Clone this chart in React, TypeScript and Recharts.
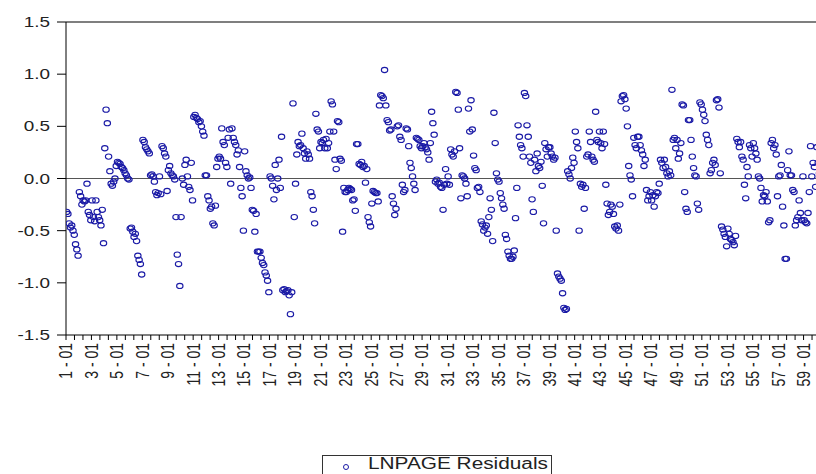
import {
  ReferenceLine,
  Scatter,
  ScatterChart,
  XAxis,
  YAxis,
} from "recharts";

// residuals per cross-section (10 periods each)
const sections01to10 = [
  [-0.32, -0.34, -0.43, -0.47, -0.45, -0.5, -0.54, -0.63, -0.68, -0.74],
  [-0.13, -0.17, -0.25, -0.21, -0.22, -0.21, -0.05, -0.32, -0.35, -0.4],
  [-0.21, -0.37, -0.41, -0.21, -0.32, -0.37, -0.4, -0.45, -0.3, -0.62],
  [0.29, 0.66, 0.53, 0.21, 0.07, -0.05, -0.07, -0.03, 0.0, 0.12],
  [0.16, 0.15, 0.14, 0.11, 0.1, 0.08, 0.05, 0.03, 0.0, -0.01],
  [-0.48, -0.47, -0.51, -0.56, -0.53, -0.6, -0.74, -0.78, -0.82, -0.92],
  [0.37, 0.35, 0.3, 0.28, 0.26, 0.24, 0.03, 0.04, 0.02, -0.03],
  [-0.13, -0.16, -0.14, 0.02, -0.15, 0.31, 0.29, 0.24, 0.21, -0.12],
  [0.08, 0.12, 0.05, 0.03, 0.02, -0.01, -0.37, -0.73, -0.82, -1.03],
  [-0.37, 0.0, -0.06, 0.13, 0.18, 0.02, -0.08, -0.11, 0.15, -0.21],
];

const sections11to20 = [
  [0.59, 0.61, 0.58, 0.57, 0.54, 0.55, 0.5, 0.45, 0.41, 0.03],
  [0.03, -0.17, -0.21, -0.29, -0.27, -0.43, -0.45, -0.26, 0.11, 0.19],
  [0.21, 0.19, 0.48, 0.35, 0.32, 0.15, 0.11, 0.39, 0.47, -0.05],
  [0.48, 0.39, 0.35, 0.32, 0.23, 0.27, 0.11, -0.09, -0.17, -0.5],
  [0.26, 0.07, 0.03, 0.0, 0.01, -0.09, -0.3, -0.31, -0.51, -0.34],
  [-0.7, -0.7, -0.7, -0.76, -0.81, -0.83, -0.9, -0.93, -0.98, -1.09],
  [0.02, 0.0, -0.07, -0.2, 0.13, -0.11, 0.0, 0.18, -0.09, 0.4],
  [-1.07, -1.06, -1.09, -1.08, -1.07, -1.12, -1.3, -1.09, 0.72, -0.37],
  [-0.05, 0.23, 0.35, 0.31, 0.32, 0.43, 0.29, 0.24, 0.19, 0.26],
  [0.23, 0.19, -0.13, -0.17, -0.3, -0.43, 0.62, 0.47, 0.45, 0.29],
];

const sections21to30 = [
  [0.35, 0.34, 0.37, 0.29, 0.38, 0.29, 0.34, 0.45, 0.74, 0.71],
  [0.45, 0.18, 0.09, 0.55, 0.54, 0.19, 0.17, -0.51, -0.09, -0.13],
  [-0.13, -0.11, -0.09, -0.1, -0.11, -0.21, -0.2, -0.31, 0.33, 0.33],
  [0.14, 0.13, 0.16, 0.11, 0.12, -0.04, 0.09, -0.37, -0.42, -0.46],
  [-0.24, -0.12, -0.13, -0.14, -0.14, -0.22, 0.7, 0.8, 0.79, 0.77],
  [1.04, 0.7, 0.56, 0.54, 0.46, 0.47, -0.17, -0.24, -0.35, -0.29],
  [0.5, 0.51, 0.4, 0.37, -0.06, -0.13, -0.11, 0.48, 0.47, 0.31],
  [0.15, 0.1, 0.02, -0.05, -0.11, 0.39, 0.38, 0.37, 0.31, 0.29],
  [0.31, 0.34, 0.3, 0.28, 0.25, 0.18, 0.34, 0.64, 0.53, 0.42],
  [-0.03, -0.01, -0.05, -0.04, -0.08, -0.09, -0.3, -0.06, 0.09, -0.05],
];

const sections31to40 = [
  [0.02, -0.06, 0.28, 0.23, 0.21, 0.26, 0.83, 0.82, 0.66, 0.29],
  [-0.19, 0.03, 0.02, 0.0, -0.05, -0.17, 0.67, 0.45, 0.75, 0.47],
  [0.22, 0.1, 0.08, -0.09, -0.08, -0.13, -0.41, -0.44, -0.5, -0.47],
  [-0.45, -0.53, -0.37, -0.19, -0.3, -0.6, 0.63, 0.34, 0.05, -0.01],
  [-0.03, -0.14, -0.19, -0.25, -0.29, -0.54, -0.58, -0.7, -0.74, -0.77],
  [-0.77, -0.75, -0.69, -0.38, -0.09, 0.51, 0.4, 0.32, 0.29, 0.21],
  [0.82, 0.79, 0.51, 0.4, 0.21, 0.15, -0.2, -0.32, 0.18, 0.07],
  [0.24, 0.12, 0.1, 0.16, -0.07, -0.43, 0.34, 0.28, 0.21, 0.3],
  [0.3, 0.24, 0.21, 0.18, 0.2, -0.5, -0.91, -0.94, -0.96, -0.98],
  [-1.1, -1.24, -1.26, -1.25, 0.07, 0.04, 0.0, 0.1, 0.2, 0.15],
];

const sections41to50 = [
  [0.45, 0.35, 0.29, -0.5, -0.05, -0.08, -0.06, -0.29, -0.09, 0.21],
  [0.23, 0.45, 0.35, 0.21, 0.18, 0.16, 0.64, 0.37, 0.35, 0.45],
  [0.34, 0.29, 0.45, 0.33, -0.06, -0.24, -0.35, -0.32, -0.25, -0.27],
  [-0.34, -0.46, -0.48, -0.45, -0.5, -0.25, 0.74, 0.79, 0.8, 0.76],
  [0.67, 0.5, 0.12, 0.03, -0.01, -0.17, 0.39, 0.32, 0.29, 0.4],
  [0.4, 0.32, 0.27, 0.23, 0.12, 0.18, -0.11, -0.21, -0.17, -0.13],
  [-0.21, -0.16, -0.27, -0.17, -0.13, -0.14, -0.05, 0.18, 0.15, 0.1],
  [0.18, 0.11, 0.05, 0.02, 0.07, 0.03, 0.85, 0.37, 0.39, 0.29],
  [0.37, 0.19, 0.24, 0.34, 0.71, 0.7, -0.13, -0.29, -0.32, 0.56],
  [0.56, 0.37, 0.21, 0.1, 0.03, 0.02, -0.24, -0.3, 0.73, 0.71],
];

const sections51to60 = [
  [0.66, 0.61, 0.55, 0.42, 0.37, 0.32, 0.05, 0.08, 0.15, 0.18],
  [0.13, 0.75, 0.76, 0.68, 0.05, -0.46, -0.49, -0.53, -0.56, -0.65],
  [-0.48, -0.53, -0.58, -0.59, -0.61, -0.64, -0.55, 0.38, 0.35, 0.3],
  [0.35, 0.21, 0.18, -0.06, -0.19, 0.11, 0.02, 0.32, 0.29, 0.21],
  [0.34, 0.29, 0.24, 0.18, 0.02, 0.0, -0.09, -0.22, -0.16, -0.17],
  [-0.13, -0.22, -0.42, -0.4, 0.34, 0.37, 0.29, 0.32, 0.23, -0.17],
  [0.02, 0.03, 0.13, -0.27, -0.45, -0.77, -0.77, 0.08, 0.26, 0.03],
  [0.03, -0.11, -0.13, -0.45, -0.4, -0.37, -0.21, -0.33, -0.4, 0.02],
  [-0.4, -0.42, -0.43, -0.33, -0.13, 0.31, 0.02, 0.15, 0.11, -0.08],
  [0.3, 0.15, 0.05, -0.1, -0.4, -0.38, 0.12, 0.2, 0.08, -0.05],
];

const obsLabels = [
  "1 - 01", "3 - 01", "5 - 01", "7 - 01", "9 - 01", "11 - 01",
  "13 - 01", "15 - 01", "17 - 01", "19 - 01", "21 - 01", "23 - 01",
  "25 - 01", "27 - 01", "29 - 01", "31 - 01", "33 - 01", "35 - 01",
  "37 - 01", "39 - 01", "41 - 01", "43 - 01", "45 - 01", "47 - 01",
  "49 - 01", "51 - 01", "53 - 01", "55 - 01", "57 - 01", "59 - 01",
];

const yTicks = [-1.5, -1.0, -0.5, 0.0, 0.5, 1.0, 1.5];

const PERIODS = 10;
const allSections = [
  ...sections01to10,
  ...sections11to20,
  ...sections21to30,
  ...sections31to40,
  ...sections41to50,
  ...sections51to60,
];
const points = allSections.flatMap((vals, s) =>
  vals.map((resid, t) => ({ obs: s * PERIODS + t + 0.5, resid }))
);
const nObs = allSections.length * PERIODS;
// three minor ticks per labelled interval (labels every 2 cross-sections)
const xTicks = Array.from({ length: 91 }, (_, i) => (i * 2 * PERIODS) / 3);

const BLUE = "#1a1aa6";
const FONT = "'Liberation Sans', Arial, sans-serif";

const XTick = (props: any) => {
  const { x, y, index } = props;
  if (index % 3 !== 0) return null;
  const label = obsLabels[index / 3];
  if (!label) return null;
  return (
    <text
      transform={`translate(${x},${y + 1}) rotate(-90) scale(1,1.3)`}
      textAnchor="end"
      dy="0.35em"
      fontSize={14}
      fontFamily={FONT}
      fill="#222"
    >
      {label}
    </text>
  );
};

const YTick = (props: any) => {
  const { x, y, payload } = props;
  return (
    <text
      transform={`translate(${x},${y}) scale(1.35,1)`}
      textAnchor="end"
      dy="0.36em"
      fontSize={14}
      fontFamily={FONT}
      fill="#222"
    >
      {Number(payload.value).toFixed(1)}
    </text>
  );
};

const Ring = (props: any) => (
  <ellipse
    cx={props.cx}
    cy={props.cy}
    rx={3.2}
    ry={2.6}
    fill="none"
    stroke={BLUE}
    strokeWidth={1.1}
  />
);

export default function App() {
  return (
    <div
      style={{
        position: "fixed",
        left: 0,
        top: 0,
        width: 816,
        height: 474,
        overflow: "hidden",
        background: "#fff",
      }}
    >
      <ScatterChart
        width={840}
        height={474}
        margin={{ top: 22, right: 11, bottom: 39, left: 0 }}
      >
        <XAxis
          type="number"
          dataKey="obs"
          domain={[0, nObs]}
          ticks={xTicks}
          interval={0}
          tickSize={5}
          tickMargin={2}
          tick={<XTick />}
          height={100}
          stroke="#000"
          allowDataOverflow
        />
        <YAxis
          type="number"
          dataKey="resid"
          domain={[-1.5, 1.5]}
          ticks={yTicks}
          interval={0}
          width={66}
          tickSize={9}
          tickMargin={7}
          tick={<YTick />}
          stroke="#000"
        />
        <ReferenceLine y={1.5} stroke="#000" strokeWidth={1.2} ifOverflow="visible" />
        <ReferenceLine y={0} stroke="#555" strokeWidth={1} />
        <Scatter
          data={points}
          shape={<Ring />}
          isAnimationActive={false}
        />
      </ScatterChart>
      <div
        style={{
          position: "absolute",
          left: 322,
          top: 455,
          width: 230,
          height: 40,
          border: "1px solid #333",
          boxSizing: "border-box",
        }}
      >
        <svg width={20} height={20} style={{ position: "absolute", left: 13, top: 1 }}>
          <circle cx={10} cy={10} r={2.5} fill="none" stroke={BLUE} strokeWidth={1} />
        </svg>
        <span
          style={{
            position: "absolute",
            left: 45,
            top: -1,
            fontFamily: FONT,
            fontSize: 16,
            color: "#222",
            whiteSpace: "nowrap",
            transform: "scaleX(1.3)",
            transformOrigin: "left top",
          }}
        >
          LNPAGE Residuals
        </span>
      </div>
    </div>
  );
}
